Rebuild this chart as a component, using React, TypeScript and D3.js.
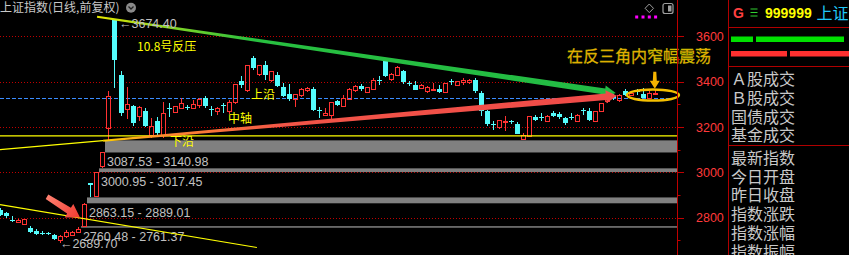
import React from 'react';
import * as d3 from 'd3';

const W = 849;
const H = 255;

// daily candles, 2024-09-02 .. 2025-02-20 (index = trading day)
const open = [2835,2820,2791,2782,2773,2754,2742,2733,2730,2724,
2702,2717,2725,2736,2765,2951,2897,3026,3196,3674.4,
3431,3280,3291,3247,3269,3166,3225,3166,3282,3265,
3284,3290,3284,3298,3328,3278,3272,3296,3272,3309,
3401,3362,3505,3435,3475,3406,3431,3375,3346,3325,
3340,3362,3368,3275,3254,3254,3313,3294,3325,3365,
3382,3353,3369,3406,3493,3413,3431,3446,3393,3387,
3372,3357,3365,3369,3353,3403,3387,3397,3397,3409,
3350,3272,3214,3198,3226,3226,3215,3148,3162,3244,
3246,3225,3262,3259,3240,3246,3225,3275,3272,3225,
3269,3313,3338,3317,3357,3340,3358,3346,3328,3345];
const high = [2844,2826,2805,2795,2795,2761,2751,2739,2736,2729,
2724,2747,2742,2760.48,2863.15,2953,3000.95,3087.53,3357,3674.4,
3446,3377,3298,3294,3283,3239,3244,3309,3306,3293,
3328,3295,3320,3330,3335,3291,3290,3306,3320,3391,
3423,3474,3515,3474,3492,3446,3445,3394,3391,3346,
3372,3376,3377,3290,3284,3310,3320,3343,3372,3386,
3391,3378,3416,3423,3500,3440,3470,3450,3401,3401,
3392,3380,3394,3385,3396,3412,3404,3418,3412,3416,
3357,3276,3225,3233,3248,3230,3222,3173,3247,3251,
3262,3253,3270,3267,3244,3262,3256,3284,3284,3272,
3308,3331,3345,3345,3367,3360,3368,3371,3360,3362];
const low = [2808,2800,2782,2778,2771,2732,2724,2724,2721,2702,
2689.70,2710,2717,2732,2761.37,2889.01,2893,3017.45,3140.98,3372,
3250,3237,3203,3227,3200,3153,3162,3152,3244,3262,
3280,3274,3280,3284,3282,3247,3255,3261,3256,3303,
3372,3355,3453,3426,3409,3400,3377,3331,3316,3290,
3334,3356,3270,3239,3254,3232,3294,3290,3320,3353,
3357,3348,3365,3387,3420,3405,3425,3392,3380,3363,
3368,3350,3362,3352,3350,3385,3380,3385,3390,3350,
3247,3206,3188,3190,3181,3215,3168,3144,3160,3226,
3225,3222,3243,3234,3210,3229,3222,3251,3228,3220,
3265,3305,3320,3312,3338,3335,3342,3326,3322,3340];
const close = [2812,2805,2784,2790,2794,2736,2728,2731,2728,2707,
2717,2736,2736,2751,2860,2944,3000.95,3087.53,3335,3497,
3262,3303,3218,3287,3206,3206,3174,3262,3279,3291,
3306,3287,3303,3324,3291,3275,3284,3293,3310,3391,
3387,3474,3460,3474,3431,3446,3382,3335,3325,3346,
3368,3372,3273,3272,3262,3310,3298,3328,3369,3382,
3368,3375,3409,3404,3427,3435,3467,3397,3391,3365,
3387,3375,3369,3356,3394,3400,3401,3406,3409,3357,
3269,3215,3212,3232,3228,3222,3170,3166,3247,3229,
3243,3250,3247,3244,3218,3242,3254,3272,3232,3272,
3306,3328,3330,3343,3343,3348,3355,3330,3350,3351];

// price gaps
const gapIndex = [13, 14, 16, 17];
const gapLow = [2760.48, 2863.15, 3000.95, 3087.53];
const gapHigh = [2761.37, 2889.01, 3017.45, 3140.98];

const yTicks = [2800, 3000, 3200, 3400, 3600];
const yMinorTicks = [2700, 2900, 3100, 3300, 3500];

// annotation lines [index, value]
const upperEdge = [[16.1, 3687], [102.4, 3350]];
const lowerEdge = [[17.1, 3139.5], [102.6, 3338]];
const lowerExt = [[-0.05, 3100], [17.1, 3139.5]];
const supportLevel = 3160.76;
const midLevel = 3328;
const downTrend = [[-0.05, 2857], [42.7, 2668]];
const bigArrow = [[7.77, 2892], [13.26, 2800]];
const goldArrow = [[108.9, 3444], [108.9, 3369]];
const ellipseCenter = [108.6, 3341];

const maxHighIndex = 19;
const minLowIndex = 10;

const panelTop = ['Ａ股成交', 'Ｂ股成交', '国债成交', '基金成交'];
const panelBottom = ['最新指数', '今日开盘', '昨日收盘', '指数涨跌', '指数涨幅', '指数振幅'];

const RED = '#ff3232';
const CYAN = '#54fcfc';
const CJK = '"Noto Sans CJK SC", sans-serif';
const LAT = '"Liberation Sans", Arial, sans-serif';

function arrowPoly(p0: number[], p1: number[], w0: number, w1: number, hl: number, hw: number) {
  const dx = p1[0] - p0[0], dy = p1[1] - p0[1];
  const L = Math.hypot(dx, dy);
  const ux = dx / L, uy = dy / L;
  const nx = -uy, ny = ux;
  const bx = p1[0] - ux * hl, by = p1[1] - uy * hl;
  const pts = [
    [p0[0] + nx * w0, p0[1] + ny * w0],
    [bx + nx * w1, by + ny * w1],
    [bx + nx * hw, by + ny * hw],
    [p1[0], p1[1]],
    [bx - nx * hw, by - ny * hw],
    [bx - nx * w1, by - ny * w1],
    [p0[0] - nx * w0, p0[1] - ny * w0],
  ];
  return pts.map((p) => p[0].toFixed(1) + ',' + p[1].toFixed(1)).join(' ');
}

export default function App() {
  const plotRight = 677;
  const x = d3.scaleLinear().domain([0, 109]).range([0.3, 655.4]);
  const y = d3.scaleLinear().domain([2800, 3600]).range([217.6, 36.4]);
  const P = (d: number[]) => [x(d[0]), y(d[1])];

  const candles = open.map((o, i) => {
    const c = close[i];
    const up = c >= o;
    const L = Math.round(x(i)) - 2;
    const cx = L + 2.5;
    const top = Math.round(y(Math.max(o, c)));
    const bot = Math.round(y(Math.min(o, c)));
    const hy = Math.round(y(high[i]));
    const ly = Math.round(y(low[i]));
    if (up) {
      const h = Math.max(bot - top, 1);
      return (
        <g key={i}>
          {hy < top && <line x1={cx} x2={cx} y1={hy} y2={top} stroke={RED} />}
          {ly > top + h && <line x1={cx} x2={cx} y1={top + h} y2={ly} stroke={RED} />}
          <rect x={L + 0.5} y={top + 0.5} width={4} height={h} fill="none" stroke={RED} />
        </g>
      );
    }
    const h = Math.max(bot - top, 1);
    return (
      <g key={i}>
        <line x1={cx} x2={cx} y1={hy} y2={Math.max(ly, hy + 1)} stroke={CYAN} />
        <rect x={L} y={top} width={5} height={h} fill={CYAN} />
      </g>
    );
  });

  const gU0 = P(upperEdge[0]), gU1 = P(upperEdge[1]);
  const rL0 = P(lowerEdge[0]), rL1 = P(lowerEdge[1]);
  const ba0 = P(bigArrow[0]), ba1 = P(bigArrow[1]);
  const ga0 = P(goldArrow[0]), ga1 = P(goldArrow[1]);
  const ec = P(ellipseCenter);

  return (
    <svg width={W} height={H} style={{ position: 'fixed', left: 0, top: 0, background: '#000' }}>
      <defs>
        <linearGradient id="gGreen" gradientUnits="userSpaceOnUse" x1={gU0[0]} y1={0} x2={gU1[0]} y2={0}>
          <stop offset="0" stopColor="#e8e800" />
          <stop offset="0.12" stopColor="#90d820" />
          <stop offset="0.3" stopColor="#28c040" />
          <stop offset="1" stopColor="#22bb44" />
        </linearGradient>
        <linearGradient id="gRed" gradientUnits="userSpaceOnUse" x1={rL0[0]} y1={0} x2={rL1[0]} y2={0}>
          <stop offset="0" stopColor="#ffd000" />
          <stop offset="0.12" stopColor="#ff8a30" />
          <stop offset="0.35" stopColor="#f25548" />
          <stop offset="1" stopColor="#f04a48" />
        </linearGradient>
        <linearGradient id="gArrow" gradientUnits="userSpaceOnUse" x1={ba0[0]} y1={ba0[1]} x2={ba1[0]} y2={ba1[1]}>
          <stop offset="0" stopColor="#ff8070" />
          <stop offset="1" stopColor="#f03a30" />
        </linearGradient>
      </defs>
      <rect x={0} y={0} width={W} height={H} fill="#000" />

      {/* grid */}
      {yTicks.map((t) => (
        <line key={t} x1={0} x2={plotRight} y1={Math.round(y(t)) + 0.5} y2={Math.round(y(t)) + 0.5}
          stroke="#c00000" strokeDasharray="1,2" />
      ))}
      <line x1={0} x2={plotRight} y1={Math.round(y(midLevel)) + 0.5} y2={Math.round(y(midLevel)) + 0.5}
        stroke="#3a8cff" strokeDasharray="4,2" />

      {/* gap bands */}
      {gapIndex.map((gi, k) => {
        const x0 = Math.round(x(gi)) + 3;
        const yt = y(gapHigh[k]);
        const yb = y(gapLow[k]);
        const h = Math.max(yb - yt, 1.2);
        return (
          <g key={k}>
            <rect x={x0} y={yt} width={plotRight - x0} height={h} fill={k === 0 ? '#a0a0a0' : '#808080'} />
            <text x={x(gi) + 4.5} y={yb + 14} fill="#c0c0c0" fontFamily={LAT} fontSize={12.5}>
              {gapLow[k].toFixed(2) + ' - ' + gapHigh[k].toFixed(2)}
            </text>
          </g>
        );
      })}

      {/* candles */}
      {candles}

      {/* support lines */}
      <line x1={0} x2={plotRight} y1={y(supportLevel)} y2={y(supportLevel)} stroke="#ffff00" strokeWidth={1.2} />
      <line x1={x(lowerExt[0][0])} y1={y(lowerExt[0][1])} x2={x(lowerExt[1][0])} y2={y(lowerExt[1][1])} stroke="#ffff00" strokeWidth={1.2} />
      <line x1={x(downTrend[0][0])} y1={y(downTrend[0][1])} x2={x(downTrend[1][0])} y2={y(downTrend[1][1])} stroke="#ffff00" strokeWidth={1.2} />

      {/* triangle edges */}
      <polygon points={arrowPoly(gU0, gU1, 1, 3, 11, 6)} fill="url(#gGreen)" />
      <polygon points={arrowPoly(rL0, rL1, 1, 3.2, 11, 6.5)} fill="url(#gRed)" />

      {/* red pointer arrow */}
      <polygon points={arrowPoly(ba0, ba1, 2.5, 3.5, 13, 8)} fill="url(#gArrow)" />

      {/* ellipse + gold arrow */}
      <ellipse cx={ec[0]} cy={ec[1]} rx={26} ry={5.5} fill="none" stroke="#f5c000" strokeWidth={2.4} />
      <polygon points={arrowPoly(ga0, ga1, 1.5, 2, 8, 5)} fill="#f5b400" />

      {/* labels */}
      <text x={x(maxHighIndex) + 4.5} y={y(high[maxHighIndex]) + 8.5} fill="#c0c0c0" fontFamily={LAT} fontSize={12.5}>
        {'←' + high[maxHighIndex].toFixed(2)}
      </text>
      <text x={x(minLowIndex) - 0.5} y={y(low[minLowIndex]) + 5.5} fill="#c0c0c0" fontFamily={LAT} fontSize={12.5}>
        {'←' + low[minLowIndex].toFixed(2)}
      </text>
      <text x={137} y={51} fill="#ffff00" fontFamily={CJK} fontSize={12}>10.8号反压</text>
      <text x={251} y={99} fill="#ffff00" fontFamily={CJK} fontSize={12}>上沿</text>
      <text x={228} y={123} fill="#ffff00" fontFamily={CJK} fontSize={12}>中轴</text>
      <text x={170} y={146} fill="#ffff00" fontFamily={CJK} fontSize={12}>下沿</text>
      <text x={567} y={61.5} fill="#f0a800" stroke="#b8c000" strokeWidth={0.3} fontFamily={CJK} fontSize={16}>在反三角内窄幅震荡</text>

      {/* title */}
      <text x={0} y={12} fill="#c8c8c8" fontFamily={CJK} fontSize={12}>上证指数(日线,前复权)</text>
      <circle cx={131} cy={7.7} r={5} fill="#8a8a8a" />
      <path d="M128.5,6.5 L131,9 L133.5,6.5" fill="none" stroke="#222" strokeWidth={1.3} />

      {/* top-right icons */}
      <path d="M649.3,4 L653.5,8.3 L649.3,12.6 L645.1,8.3 Z" fill="none" stroke="#a0a0a0" strokeWidth={1} />
      <rect x={663} y={3.5} width={10} height={10} rx={2} fill="none" stroke="#a0a0a0" strokeWidth={1.2} />
      <rect x={668} y={5.5} width={3.5} height={6} fill="#a0a0a0" />
      {[636.7, 643, 649.3, 655.6].map((px) => (
        <rect key={px} x={px - 1.5} y={15.5} width={3} height={3} fill="#ff00ff" />
      ))}

      {/* axis */}
      <line x1={plotRight + 0.5} x2={plotRight + 0.5} y1={0} y2={H} stroke="#c00000" />
      {yTicks.map((t) => (
        <g key={t}>
          <line x1={plotRight} x2={plotRight + 7} y1={Math.round(y(t)) + 0.5} y2={Math.round(y(t)) + 0.5} stroke="#c00000" />
          <text x={696} y={y(t) + 4.5} fill="#ff3a3a" fontFamily={LAT} fontSize={12.5}>{t}</text>
        </g>
      ))}
      {yMinorTicks.map((t) => (
        <line key={t} x1={plotRight} x2={plotRight + 3.5} y1={Math.round(y(t)) + 0.5} y2={Math.round(y(t)) + 0.5} stroke="#c00000" />
      ))}

      {/* right panel */}
      <line x1={728.5} x2={728.5} y1={0} y2={H} stroke="#b00000" />
      {[27, 66, 145].map((yy) => (
        <line key={yy} x1={728} x2={W} y1={yy + 0.5} y2={yy + 0.5} stroke="#b00000" />
      ))}
      <text x={733} y={18} fill="#ff4040" fontFamily={LAT} fontWeight="bold" fontSize={14}>G</text>
      {[9, 12.5, 16].map((yy) => (
        <line key={yy} x1={750.5} x2={757.5} y1={yy} y2={yy} stroke="#30d030" strokeWidth={1} />
      ))}
      <text x={765} y={18} fill="#ffff00" fontFamily={LAT} fontWeight="bold" fontSize={14}>999999</text>
      <text x={816.5} y={19} fill="#20c8f8" fontFamily={CJK} fontSize={16}>上证</text>
      <rect x={731} y={36.5} width={22} height={5.5} fill="#00e000" />
      <rect x={756} y={36.5} width={88} height={5.5} fill="#00e000" />
      <rect x={731} y={51} width={56} height={5.5} fill="#ff3030" />
      <rect x={790} y={51} width={59} height={5.5} fill="#ff3030" />
      {panelTop.map((t, k) => (
        <text key={t} x={731} y={78 + k * 18.8} dominantBaseline="central" fill="#c8c8c8" fontFamily={CJK} fontSize={16}>{t}</text>
      ))}
      {panelBottom.map((t, k) => (
        <text key={t} x={731} y={156.7 + k * 18.8} dominantBaseline="central" fill="#c8c8c8" fontFamily={CJK} fontSize={16}>{t}</text>
      ))}
    </svg>
  );
}
